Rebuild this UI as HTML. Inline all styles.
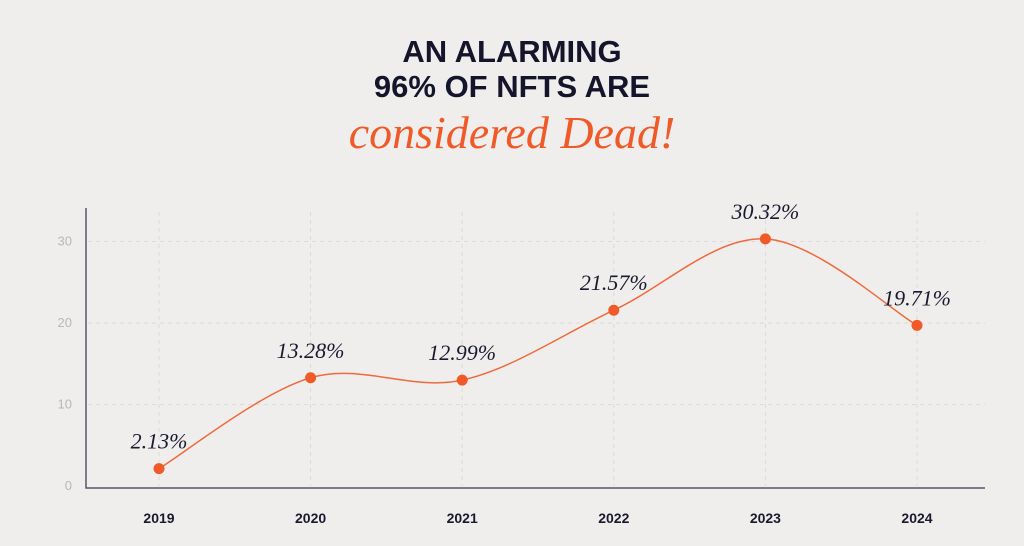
<!DOCTYPE html>
<html><head><meta charset="utf-8"><style>
html,body{margin:0;padding:0;background:#efeeec;}
body{width:1024px;height:546px;position:relative;overflow:hidden;font-family:"Liberation Sans",sans-serif;}
.t{position:absolute;left:0;width:1024px;text-align:center;color:#14142b;font-weight:bold;font-size:31px;letter-spacing:0px;}
.s{position:absolute;left:0;width:1024px;text-align:center;color:#ef5a28;font-style:italic;font-size:46px;font-family:"Liberation Serif",serif;top:106px;}
svg{position:absolute;left:0;top:0;}
</style></head><body>
<div class="t" style="top:34px">AN ALARMING</div>
<div class="t" style="top:69px">96% OF NFTS ARE</div>
<div class="s">considered Dead!</div>
<svg id="c" width="1024" height="546"></svg>
<script>
const categories=["2019","2020","2021","2022","2023","2024"];
const values=[2.13,13.28,12.99,21.57,30.32,19.71];
const labels=["2.13%","13.28%","12.99%","21.57%","30.32%","19.71%"];
const yTicks=[0,10,20,30];
const NS="http://www.w3.org/2000/svg",svg=document.getElementById('c');
const x=i=>159+i*151.6, y=v=>486-v*8.15;
function mk(t,a,p){const e=document.createElementNS(NS,t);for(const k in a)e.setAttribute(k,a[k]);(p||svg).appendChild(e);return e;}
yTicks.forEach(v=>{
 if(v>0){const g=mk('line',{x1:88,x2:985,y1:y(v),y2:y(v),stroke:'#dcdbd8','stroke-dasharray':'4 4'});
 
 }
 const t=mk('text',{x:72,y:y(v)+4,'text-anchor':'end','font-size':13,fill:'#b8b8b8','font-family':'Liberation Sans'});t.textContent=v;
 
 
});
categories.forEach((c,i)=>{
 const g=mk('line',{x1:x(i),x2:x(i),y1:212,y2:486,stroke:'#dcdbd8','stroke-dasharray':'4 4'});
 
 
 const t=mk('text',{x:x(i),y:523,'text-anchor':'middle','font-size':14,'font-weight':'bold',fill:'#1a1a2e','font-family':'Liberation Sans'});t.textContent=c;
 
 
});
const ax=mk('path',{d:'M86 208V488H985',fill:'none',stroke:'#55556a','stroke-width':1.5});


const P=values.map((v,i)=>[x(i),y(v)]);
let d='M'+P[0];
for(let i=0;i<P.length-1;i++){const p0=P[Math.max(0,i-1)],p1=P[i],p2=P[i+1],p3=P[Math.min(P.length-1,i+2)];
 const c1=[p1[0]+(p2[0]-p0[0])/6,p1[1]+(p2[1]-p0[1])/6],c2=[p2[0]-(p3[0]-p1[0])/6,p2[1]-(p3[1]-p1[1])/6];
 d+=' C'+c1+' '+c2+' '+p2;}
const ln=mk('path',{d:d,fill:'none',stroke:'#ef6a3c','stroke-width':1.5});


P.forEach((p,i)=>{
 const c=mk('circle',{cx:p[0],cy:p[1],r:5.5,fill:'#ef5a28'});
 
 
 const t=mk('text',{x:p[0],y:p[1]-20,'text-anchor':'middle','font-size':22,'font-style':'italic',fill:'#1a1a2e','font-family':'Liberation Serif'});t.textContent=labels[i];
 
 
});
</script>
</body></html>
